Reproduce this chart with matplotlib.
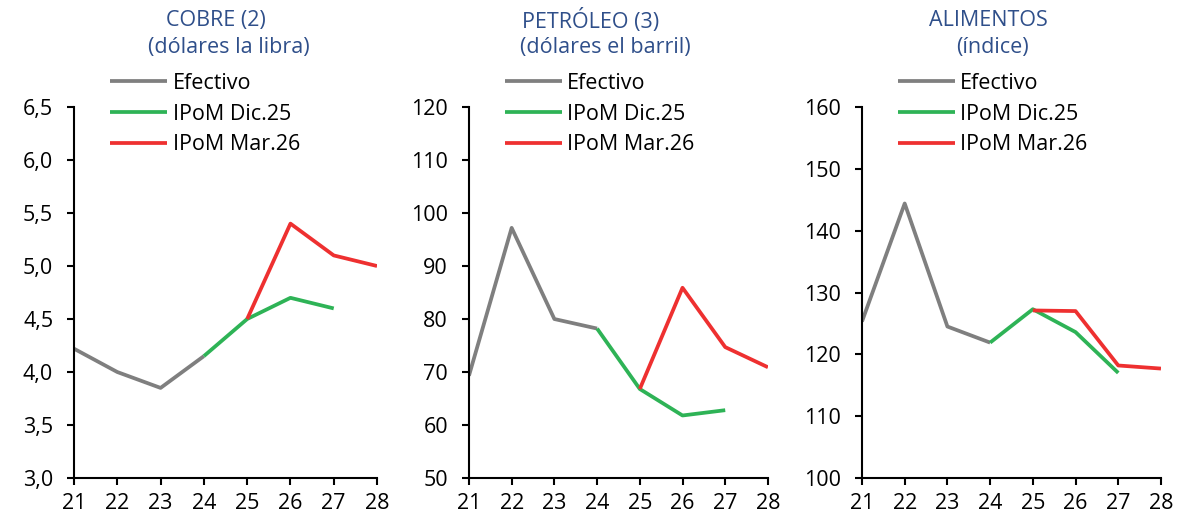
import matplotlib.pyplot as plt

plt.rcParams['font.family'] = ['Open Sans', 'DejaVu Sans']

years = [21, 22, 23, 24, 25, 26, 27, 28]

# cobre
cobre_efectivo = [4.22, 4.00, 3.85, 4.15]
cobre_dic25 = [4.15, 4.50, 4.70, 4.60]
cobre_mar26 = [4.50, 5.40, 5.10, 5.00]

# petroleo
petroleo_efectivo = [69.3, 97.2, 80.0, 78.2]
petroleo_dic25 = [78.2, 66.8, 61.8, 62.8]
petroleo_mar26 = [66.8, 85.9, 74.7, 70.9]

# alimentos
alimentos_efectivo = [125.3, 144.4, 124.5, 121.9]
alimentos_dic25 = [121.9, 127.3, 123.6, 117.0]
alimentos_mar26 = [127.1, 127.0, 118.2, 117.7]

titles = [('COBRE (2)', '(dólares la libra)'),
          ('PETRÓLEO (3)', '(dólares el barril)'),
          ('ALIMENTOS', '(índice)')]
ylims = [(3.0, 6.5, 0.5), (50, 120, 10), (100, 160, 10)]
series = [(cobre_efectivo, cobre_dic25, cobre_mar26),
          (petroleo_efectivo, petroleo_dic25, petroleo_mar26),
          (alimentos_efectivo, alimentos_dic25, alimentos_mar26)]

gray = '#7F7F7F'
green = '#2EB356'
red = '#EE3030'
blue = '#2F4F8A'

fig = plt.figure(figsize=(11.86, 5.16), dpi=100)
lefts = [0.0624, 0.3954, 0.7268]
widths = [0.2555, 0.2521, 0.2521]
# title line centres (figure fraction)
title_x = [(0.182, 0.193), (0.498, 0.510), (0.833, 0.837)]

for i in range(3):
    ax = fig.add_axes([lefts[i], 0.0736, widths[i], 0.719])
    ef, dic, mar = series[i]
    ax.plot(years[0:4], ef, color=gray, lw=2.7, label='Efectivo', solid_capstyle='butt')
    ax.plot(years[3:7], dic, color=green, lw=2.7, label='IPoM Dic.25', solid_capstyle='butt')
    ax.plot(years[4:8], mar, color=red, lw=2.7, label='IPoM Mar.26', solid_capstyle='butt')

    lo, hi, step = ylims[i]
    ax.set_xlim(21, 28)
    ax.set_ylim(lo, hi)
    ax.set_xticks(years)
    n = int(round((hi - lo) / step))
    yt = [lo + k * step for k in range(n + 1)]
    ax.set_yticks(yt)
    if i == 0:
        ax.set_yticklabels([('%.1f' % v).replace('.', ',') for v in yt])
    else:
        ax.set_yticklabels(['%d' % v for v in yt])

    for s in ['top', 'right']:
        ax.spines[s].set_visible(False)
    for s in ['left', 'bottom']:
        ax.spines[s].set_linewidth(1.5)
    ax.tick_params(direction='out', length=5, width=1.5, labelsize=15.5)
    ax.tick_params(axis='y', pad=10)
    ax.tick_params(axis='x', pad=6)

    ax.legend(loc='upper left', bbox_to_anchor=(0.12, 1.092), frameon=False,
              fontsize=15.5, handlelength=2.65, handletextpad=0.25,
              labelspacing=0.45, borderpad=0, borderaxespad=0)

    t1, t2 = titles[i]
    fig.text(title_x[i][0], 0.96, t1, color=blue, fontsize=15.5, ha='center', va='center')
    fig.text(title_x[i][1], 0.908, t2, color=blue, fontsize=15.5, ha='center', va='center')

fig.savefig('out.png', dpi=100)
